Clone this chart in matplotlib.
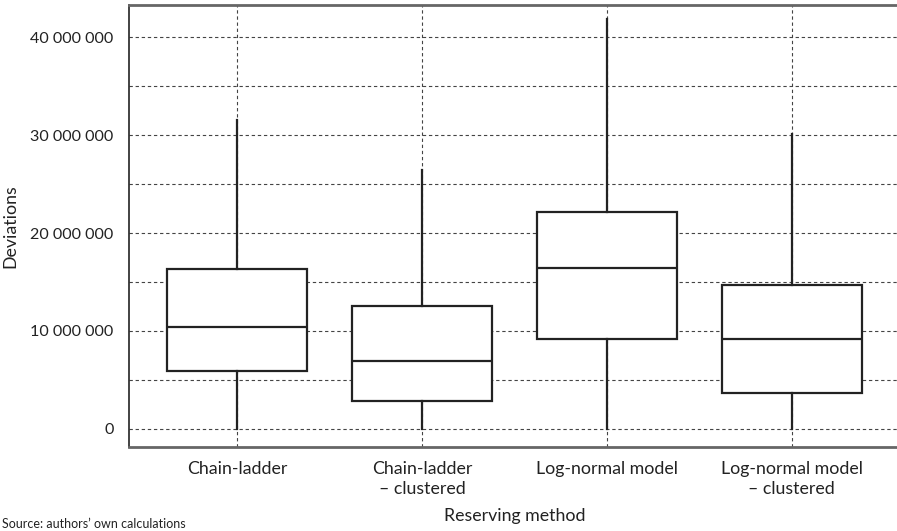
import matplotlib
matplotlib.use("Agg")
import matplotlib.pyplot as plt
import matplotlib.ticker as ticker

plt.rcParams['font.family'] = ['Lato', 'DejaVu Sans']

# reserving methods and box statistics
methods = ["Chain-ladder", "Chain-ladder\n\u2013 clustered",
           "Log-normal model", "Log-normal model\n\u2013 clustered"]
whisker_low = [0, 0, 0, 0]
q1 = [5.95e6, 2.9e6, 9.2e6, 3.7e6]
median = [10.45e6, 6.95e6, 16.4e6, 9.15e6]
q3 = [16.35e6, 12.5e6, 22.1e6, 14.65e6]
whisker_high = [31.5e6, 26.4e6, 41.8e6, 30.1e6]

yticks = [0, 10e6, 20e6, 30e6, 40e6]

stats = []
for i in range(len(methods)):
    stats.append({
        "whislo": whisker_low[i], "q1": q1[i], "med": median[i],
        "q3": q3[i], "whishi": whisker_high[i], "fliers": [],
    })

fig = plt.figure(figsize=(8.97, 5.31), dpi=100)
ax = fig.add_axes([129 / 897, 1 - 447 / 531, 771 / 897, 442 / 531])

box_color = "#222222"
ax.bxp(stats, positions=range(1, len(methods) + 1), widths=0.757,
       showcaps=False, showfliers=False, patch_artist=True,
       boxprops=dict(facecolor="white", edgecolor=box_color, linewidth=1.6),
       medianprops=dict(color=box_color, linewidth=1.6),
       whiskerprops=dict(color=box_color, linewidth=1.6),
       zorder=3)

ax.set_xlim(0.415, 4.585)
ax.set_ylim(-1.84e6, 43.27e6)

# dashed grid every 5 million and at every category
ax.yaxis.set_minor_locator(ticker.MultipleLocator(5e6))
ax.set_yticks(yticks)
ax.yaxis.set_major_formatter(
    ticker.FuncFormatter(lambda v, p: f"{int(v):,}".replace(",", " ")))
ax.grid(True, which="both", axis="y", linestyle=(0, (3, 2.5)),
        color="#444444", linewidth=0.8, zorder=0)
ax.grid(True, which="major", axis="x", linestyle=(0, (3, 2.5)),
        color="#444444", linewidth=0.8, zorder=0)
ax.set_axisbelow(True)

ax.set_xticks(range(1, len(methods) + 1))
ax.set_xticklabels(methods, fontsize=12.8, color="#222222", linespacing=1.3)
ax.tick_params(axis="both", which="both", length=0, labelcolor="#222222")
ax.tick_params(axis="y", labelsize=11.6)
ax.tick_params(axis="x", pad=10)
ax.tick_params(axis="y", pad=11)

for side in ["top", "bottom"]:
    ax.spines[side].set_color("#666666")
    ax.spines[side].set_linewidth(2)
ax.spines["left"].set_color("#222222")
ax.spines["left"].set_linewidth(1.2)
ax.spines["right"].set_visible(False)

ax.set_xlabel("Reserving method", fontsize=12.8, color="#222222", labelpad=8)
ax.set_ylabel("Deviations", fontsize=12.8, color="#222222", labelpad=9)

fig.text(0.002, 0.002, "Source: authors\u2019 own calculations",
         fontsize=9, color="#222222", va="bottom", ha="left")

fig.savefig("out.png", dpi=100)
